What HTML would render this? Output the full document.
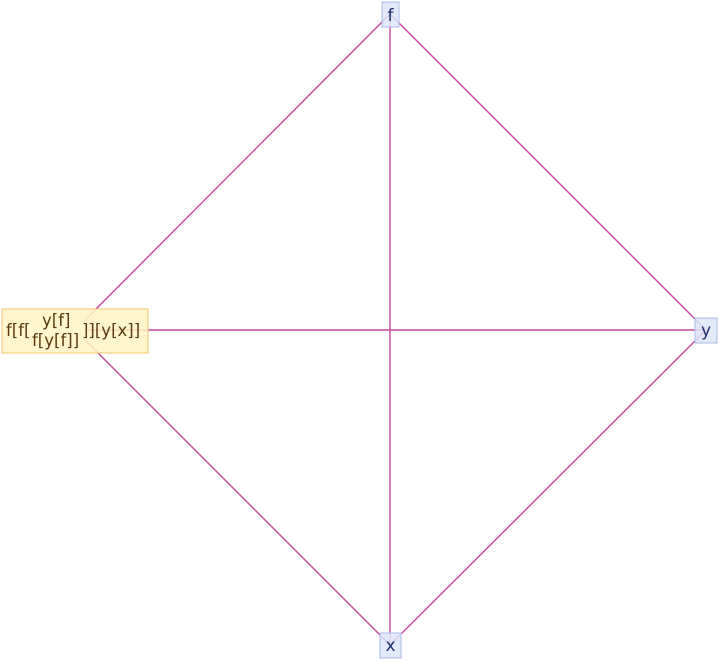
<!DOCTYPE html>
<html><head><style>
body{margin:0;width:720px;height:662px;background:#fff;overflow:hidden}
svg{position:absolute;left:0;top:0}
text{font-family:"DejaVu Sans","Liberation Sans",sans-serif}
</style></head><body>
<svg width="720" height="662" viewBox="0 0 720 662">
<g stroke="#c6489e" stroke-width="1.4" fill="none">
<line x1="390" y1="14" x2="706" y2="330"/>
<line x1="390" y1="14" x2="390" y2="645"/>
<line x1="390" y1="14" x2="85" y2="320"/>
<line x1="85" y1="330" x2="706" y2="330"/>
<line x1="85" y1="340" x2="390" y2="645"/>
<line x1="706" y1="330" x2="390" y2="645"/>
</g>
<rect x="382" y="2" width="17" height="25" fill="#dde5f8" fill-opacity="0.85" stroke="#a9bae8"/>
<text x="390.5" y="21" font-size="17" fill="#1f2f6e" text-anchor="middle">f</text>
<rect x="695" y="318" width="22" height="25" fill="#dde5f8" fill-opacity="0.85" stroke="#a9bae8"/>
<text x="706" y="336" font-size="17" fill="#1f2f6e" text-anchor="middle">y</text>
<rect x="380" y="633" width="21" height="25" fill="#dde5f8" fill-opacity="0.85" stroke="#a9bae8"/>
<text x="390.5" y="651" font-size="17" fill="#1f2f6e" text-anchor="middle">x</text>
<rect x="2" y="309" width="146" height="44" fill="#fff4c4" fill-opacity="0.85" stroke="#f3c46a"/>
<g fill="#5a3a10" font-size="16.5">
<text x="6" y="336">f[f[</text>
<text x="42" y="326">y[f]</text>
<text x="32" y="346">f[y[f]]</text>
<text x="82" y="336">]][y[x]]</text>
</g>
</svg>
</body></html>
